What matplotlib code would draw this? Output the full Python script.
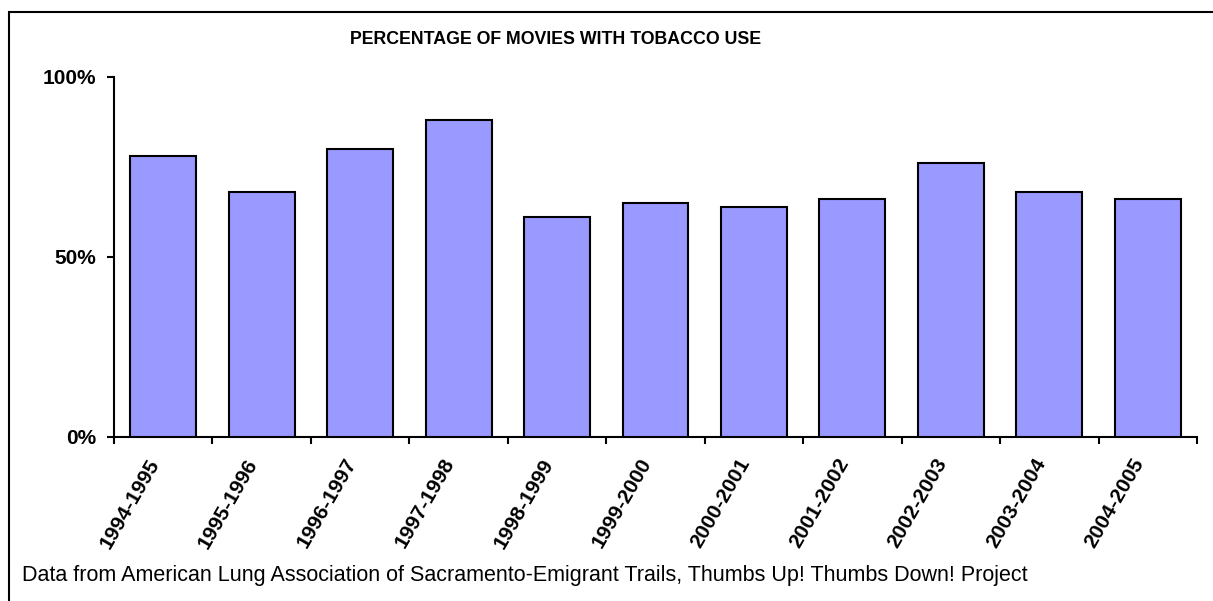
import numpy as np
import matplotlib.pyplot as plt
from matplotlib.patches import Rectangle
from matplotlib.ticker import PercentFormatter

plt.rcParams['font.family'] = ['Liberation Sans', 'DejaVu Sans']

seasons = ['1994-1995', '1995-1996', '1996-1997', '1997-1998', '1998-1999',
           '1999-2000', '2000-2001', '2001-2002', '2002-2003', '2003-2004',
           '2004-2005']
pct_tobacco = [78, 68, 80, 88, 61, 65, 64, 66, 76, 68, 66]

title = 'PERCENTAGE OF MOVIES WITH TOBACCO USE'
source = ('Data from American Lung Association of Sacramento-Emigrant Trails, '
          'Thumbs Up! Thumbs Down! Project')

W, H = 1213, 601
fig = plt.figure(figsize=(W / 100, H / 100), dpi=100)
ax = fig.add_axes([114 / W, 1 - 437 / H, (1197 - 114) / W, (437 - 77) / H])

x = np.arange(len(seasons))
ax.bar(x, pct_tobacco, width=0.67, color='#9999FF', edgecolor='black',
       linewidth=1.5, zorder=3)

ax.set_xlim(-0.5, len(seasons) - 0.5)
ax.set_ylim(0, 100)
ax.set_yticks([0, 50, 100])
ax.yaxis.set_major_formatter(PercentFormatter(decimals=0))

# labels at the bar centres, tick marks between categories
ax.set_xticks(x)
ax.set_xticklabels(seasons, rotation=60, ha='right', va='bottom',
                   rotation_mode='anchor', fontsize=15, fontweight='bold')
ax.set_xticks(np.arange(-0.5, len(seasons)), minor=True)
ax.tick_params(axis='x', which='major', length=0, pad=20)
ax.tick_params(axis='x', which='minor', length=5, width=1.5, direction='out')
ax.tick_params(axis='y', length=5, width=1.5, direction='out', pad=8,
               labelsize=15)
for lab in ax.get_yticklabels():
    lab.set_fontweight('bold')

for side in ['top', 'right']:
    ax.spines[side].set_visible(False)
for side in ['left', 'bottom']:
    ax.spines[side].set_linewidth(1.5)

fig.text(556 / W, 1 - 40 / H, title, ha='center', va='center',
         fontsize=12.8, fontweight='bold')
fig.text(22 / W, 1 - 575 / H, source, ha='left', va='center', fontsize=15.5)

# outer chart frame (left/top edges visible only)
fig.patches.append(Rectangle((9 / W, -0.1), 1.2, 1.1 - 12 / H,
                             transform=fig.transFigure, fill=False,
                             edgecolor='black', linewidth=1.5))

plt.savefig('out.png', dpi=100)
